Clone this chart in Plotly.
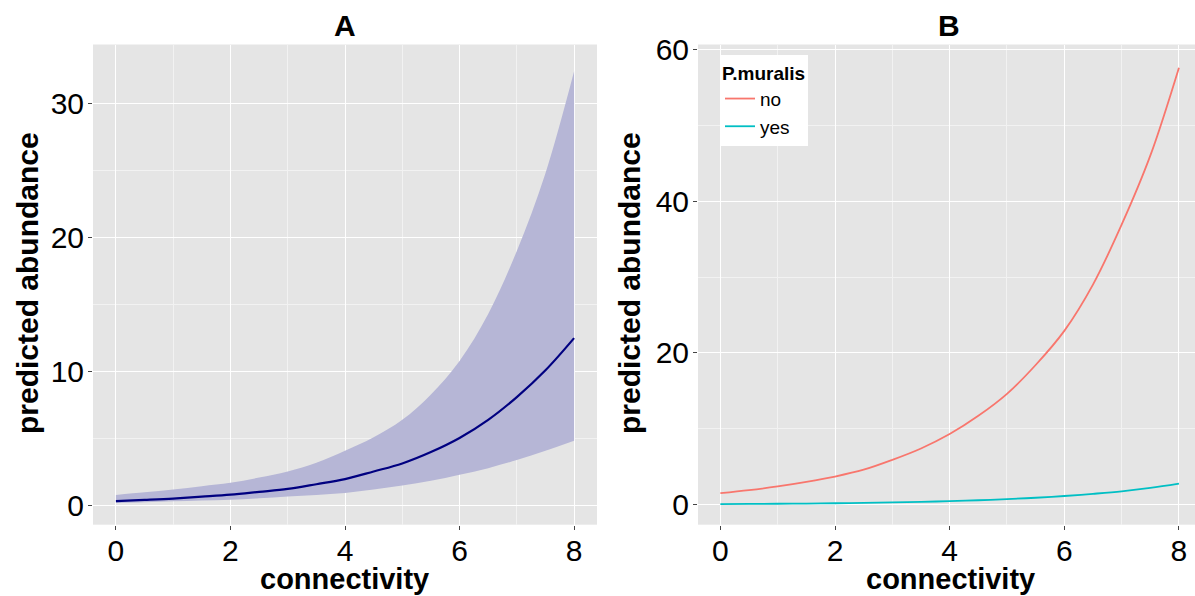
import plotly.graph_objects as go

# ---------------- data ----------------
conn = [0, 0.5, 1, 1.5, 2, 2.5, 3, 3.5, 4, 4.5, 5, 5.5, 6, 6.5, 7, 7.5, 8]

# Panel A: predicted abundance with confidence band
a_fit   = [0.34, 0.43, 0.53, 0.67, 0.82, 1.03, 1.25, 1.6, 1.98, 2.55, 3.15, 4.0, 5.05, 6.4, 8.1, 10.1, 12.5]
a_upper = [0.8, 1.0, 1.2, 1.45, 1.7, 2.1, 2.55, 3.2, 4.1, 5.1, 6.4, 8.3, 10.8, 14.3, 19.0, 24.8, 32.4]
a_lower = [0.2, 0.26, 0.32, 0.38, 0.45, 0.55, 0.68, 0.8, 0.95, 1.2, 1.5, 1.85, 2.3, 2.8, 3.4, 4.1, 4.85]

# Panel B: predicted abundance by P.muralis presence
b_no  = [1.5, 1.9, 2.4, 3.0, 3.7, 4.6, 5.9, 7.4, 9.3, 11.7, 14.6, 18.4, 22.9, 29.0, 36.9, 46.0, 57.6]
b_yes = [0.07, 0.09, 0.11, 0.14, 0.18, 0.23, 0.28, 0.36, 0.45, 0.57, 0.72, 0.9, 1.13, 1.42, 1.75, 2.2, 2.76]

x_ticks = [0, 2, 4, 6, 8]
a_yticks = [0, 10, 20, 30]
b_yticks = [0, 20, 40, 60]

# ---------------- figure ----------------
W, H = 1195, 596
FONT = "Liberation Sans, Arial, sans-serif"
BG = "#E5E5E5"

fig = go.Figure()

# Ribbon A
fig.add_trace(go.Scatter(x=conn, y=a_lower, mode="lines", line=dict(width=0, color="rgba(0,0,0,0)", shape="spline"),
                         showlegend=False, hoverinfo="skip", xaxis="x", yaxis="y"))
fig.add_trace(go.Scatter(x=conn, y=a_upper, mode="lines", line=dict(width=0, color="rgba(0,0,0,0)", shape="spline"),
                         fill="tonexty", fillcolor="#b6b6d6", showlegend=False, hoverinfo="skip",
                         xaxis="x", yaxis="y"))
fig.add_trace(go.Scatter(x=conn, y=a_fit, mode="lines", line=dict(width=2.2, color="#000080", shape="spline"),
                         showlegend=False, xaxis="x", yaxis="y"))

# Panel B lines
fig.add_trace(go.Scatter(x=conn, y=b_no, mode="lines", name="no",
                         line=dict(width=1.8, color="#F8766D", shape="spline"), xaxis="x2", yaxis="y2"))
fig.add_trace(go.Scatter(x=conn, y=b_yes, mode="lines", name="yes",
                         line=dict(width=1.8, color="#00BFC4", shape="spline"), xaxis="x2", yaxis="y2"))

def px_x(p):
    return p / W

def px_y(p):
    return 1 - p / H

ydom = [px_y(524.7), px_y(44.5)]

common_axis = dict(
    showgrid=True, gridcolor="white", gridwidth=1.3,
    zeroline=False, showline=False,
    ticks="outside", ticklen=4, tickwidth=1, tickcolor="#444444",
    tickfont=dict(family=FONT, size=30, color="black"),
    automargin=False,
)

fig.update_layout(
    width=W, height=H,
    margin=dict(l=0, r=0, t=0, b=0),
    paper_bgcolor="white",
    plot_bgcolor=BG,
    showlegend=True,
    xaxis=dict(domain=[px_x(93), px_x(597)], range=[-0.4, 8.4], tickvals=x_ticks,
               minor=dict(showgrid=True, gridcolor="#F2F2F2", gridwidth=0.6, dtick=1, tick0=0, ticks=""),
               anchor="y", ticklabelstandoff=-5, **common_axis),
    yaxis=dict(domain=ydom, range=[-1.42, 34.4], tickvals=a_yticks,
               minor=dict(showgrid=True, gridcolor="#F2F2F2", gridwidth=0.6, dtick=5, tick0=0, ticks=""),
               anchor="x", ticklabelstandoff=-2, **common_axis),
    xaxis2=dict(domain=[px_x(698), 1.0], range=[-0.39, 8.28], tickvals=x_ticks,
                minor=dict(showgrid=True, gridcolor="#F2F2F2", gridwidth=0.6, dtick=1, tick0=0, ticks=""),
                anchor="y2", ticklabelstandoff=-5, **common_axis),
    yaxis2=dict(domain=ydom, range=[-2.65, 60.65], tickvals=b_yticks,
                minor=dict(showgrid=True, gridcolor="#F2F2F2", gridwidth=0.6, dtick=10, tick0=0, ticks=""),
                anchor="x2", ticklabelstandoff=-2, **common_axis),
    legend=dict(
        x=px_x(720), y=px_y(55), xanchor="left", yanchor="top",
        bgcolor="white", borderwidth=0, traceorder="normal",
        title=dict(text="P.muralis", font=dict(family=FONT, size=19, color="black", weight="bold")),
        font=dict(family=FONT, size=19, color="black"),
        itemwidth=30, tracegroupgap=0,
    ),
)

bold = dict(family=FONT, size=30, color="black", weight="bold")
def ann(text, x, y, angle=0, size=30):
    f = dict(bold)
    f["size"] = size
    return dict(text=text, x=px_x(x), y=px_y(y), xref="paper", yref="paper", showarrow=False,
                xanchor="center", yanchor="middle", textangle=angle, font=f)

annotations = [
    ann("A", 345, 26),
    ann("B", 949, 26),
    ann("connectivity", 345, 579, size=29),
    ann("connectivity", 950, 579, size=29),
    ann("predicted abundance", 27, 283, -90),
    ann("predicted abundance", 629, 283, -90),
]
fig.update_layout(annotations=annotations)

fig.write_html("out.html")
